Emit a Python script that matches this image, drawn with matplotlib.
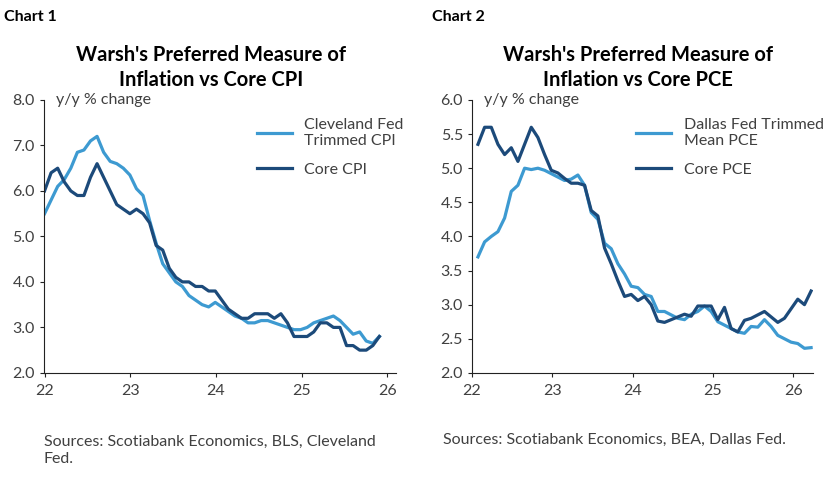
import matplotlib
matplotlib.use("Agg")
import matplotlib.pyplot as plt
import numpy as np

plt.rcParams['font.family'] = ['Lato', 'DejaVu Sans']

cleveland = [5.5,5.8,6.1,6.25,6.5,6.85,6.9,7.1,7.2,6.85,6.65,6.6,
             6.5,6.35,6.05,5.9,5.35,4.85,4.4,4.2,4.0,3.9,3.7,3.6,
             3.5,3.45,3.55,3.45,3.35,3.25,3.2,3.1,3.1,3.15,3.15,3.1,
             3.05,3.0,2.95,2.95,3.0,3.1,3.15,3.2,3.25,3.15,3.0,2.85,
             2.9,2.7,2.65,2.8]
core_cpi = [6.0,6.4,6.5,6.2,6.0,5.9,5.9,6.3,6.6,6.3,6.0,5.7,
            5.6,5.5,5.6,5.5,5.3,4.8,4.7,4.3,4.1,4.0,4.0,3.9,
            3.9,3.8,3.8,3.6,3.4,3.3,3.2,3.2,3.3,3.3,3.3,3.2,
            3.3,3.1,2.8,2.8,2.8,2.9,3.1,3.1,3.0,3.0,2.6,2.6,
            2.5,2.5,2.6,2.8]
dallas = [3.7,3.92,4.0,4.07,4.27,4.66,4.75,5.0,4.98,5.0,4.97,4.92,
          4.87,4.82,4.84,4.90,4.75,4.35,4.25,3.9,3.82,3.6,3.45,3.27,
          3.25,3.15,3.12,2.9,2.9,2.85,2.8,2.78,2.86,2.9,2.98,2.9,
          2.75,2.7,2.65,2.6,2.58,2.68,2.67,2.78,2.68,2.55,2.5,2.45,
          2.43,2.36,2.37]
core_pce = [5.35,5.6,5.6,5.35,5.2,5.3,5.1,5.35,5.6,5.45,5.2,4.97,
            4.93,4.85,4.78,4.78,4.75,4.38,4.3,3.83,3.6,3.35,3.12,3.15,
            3.06,3.12,3.0,2.76,2.74,2.78,2.82,2.86,2.83,2.98,2.98,2.98,
            2.78,2.96,2.65,2.60,2.77,2.80,2.85,2.90,2.82,2.74,2.8,2.94,
            3.08,3.0,3.2]
year_labels = ['22', '23', '24', '25', '26']

LIGHT = '#3d9ad1'
DARK = '#1c4a7a'
TXT = '#404040'
FS = 11.5

fig = plt.figure(figsize=(8.28, 4.83), dpi=100)
ax1 = fig.add_axes([0.053, 0.228, 0.425, 0.565])
ax2 = fig.add_axes([0.570, 0.228, 0.412, 0.565])

def style(ax, ylim, yticks, ticks_x, xlim):
    for s in ['top', 'right']:
        ax.spines[s].set_visible(False)
    ax.spines['left'].set_color('#222222')
    ax.spines['bottom'].set_color('#222222')
    ax.set_ylim(*ylim)
    ax.set_yticks(yticks)
    ax.set_yticklabels([f'{v:.1f}' for v in yticks], color=TXT, fontsize=FS)
    ax.set_xticks(ticks_x)
    ax.set_xticklabels(year_labels, color=TXT, fontsize=FS)
    ax.set_xlim(*xlim)
    ax.tick_params(axis='both', direction='out', length=3, color='#222222')
    ax.tick_params(axis='x', pad=5)

# Chart 1
x1 = np.arange(len(core_cpi))
ax1.plot(x1, cleveland, color=LIGHT, lw=2.3, label='Cleveland Fed\nTrimmed CPI')
ax1.plot(x1, core_cpi, color=DARK, lw=2.3, label='Core CPI')
style(ax1, (2.0, 8.0), np.arange(2.0, 8.01, 1.0),
      [i * 13.05 for i in range(5)], (-0.1, 53.5))
ax1.text(0.035, 1.0, 'y/y % change', transform=ax1.transAxes, fontsize=FS,
         color=TXT, va='center')
ax1.legend(loc='upper right', bbox_to_anchor=(1.05, 0.97), frameon=False,
           fontsize=FS, handlelength=2.2, labelcolor=TXT, borderaxespad=0.2,
           labelspacing=0.9)

# Chart 2
x2 = np.arange(len(core_pce))
ax2.plot(x2, dallas, color=LIGHT, lw=2.3, label='Dallas Fed Trimmed\nMean PCE')
ax2.plot(x2, core_pce, color=DARK, lw=2.3, label='Core PCE')
style(ax2, (2.0, 6.0), np.arange(2.0, 6.01, 0.5),
      [-0.9 + i * 12.05 for i in range(5)], (-0.9, 50.3))
ax2.text(0.035, 1.0, 'y/y % change', transform=ax2.transAxes, fontsize=FS,
         color=TXT, va='center')
ax2.legend(loc='upper right', bbox_to_anchor=(1.06, 0.97), frameon=False,
           fontsize=FS, handlelength=2.2, labelcolor=TXT, borderaxespad=0.2,
           labelspacing=0.9)

fig.text(0.005, 0.965, 'Chart 1', fontsize=11.5, fontweight='bold', va='center')
fig.text(0.522, 0.965, 'Chart 2', fontsize=11.5, fontweight='bold', va='center')
fig.text(0.255, 0.86, "Warsh's Preferred Measure of\nInflation vs Core CPI",
         ha='center', va='center', fontsize=14.5, fontweight='bold', linespacing=1.3)
fig.text(0.77, 0.86, "Warsh's Preferred Measure of\nInflation vs Core PCE",
         ha='center', va='center', fontsize=14.5, fontweight='bold', linespacing=1.3)
fig.text(0.053, 0.068, 'Sources: Scotiabank Economics, BLS, Cleveland\nFed.',
         fontsize=FS, color=TXT, va='center', linespacing=1.25)
fig.text(0.535, 0.09, 'Sources: Scotiabank Economics, BEA, Dallas Fed.',
         fontsize=FS, color=TXT, va='center')

fig.savefig('out.png', dpi=100)
